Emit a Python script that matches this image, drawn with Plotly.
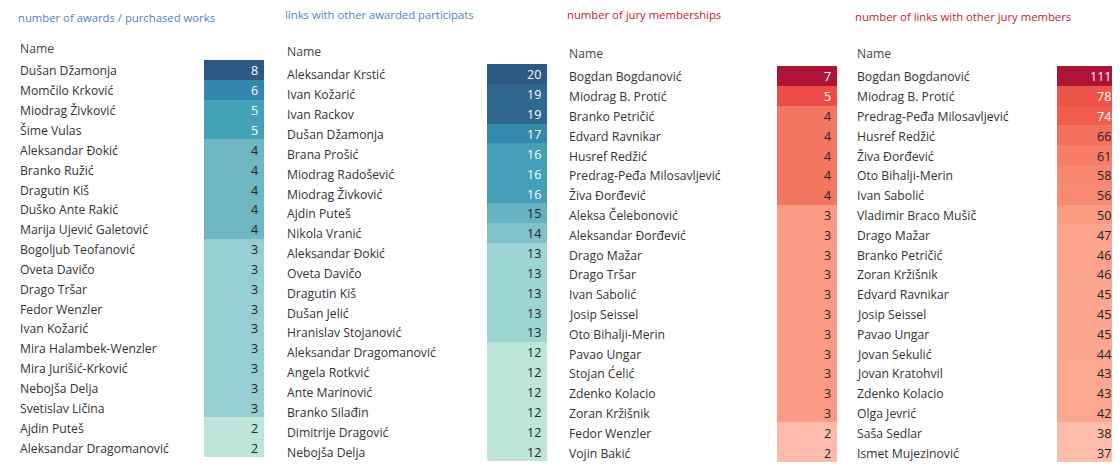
import plotly.graph_objects as go

# ---------------- data ----------------
awards_title = "number of awards / purchased works"
awards_names = ["Dušan Džamonja", "Momčilo Krković", "Miodrag Živković", "Šime Vulas",
                "Aleksandar Đokić", "Branko Ružić", "Dragutin Kiš", "Duško Ante Rakić",
                "Marija Ujević Galetović", "Bogoljub Teofanović", "Oveta Davičo", "Drago Tršar",
                "Fedor Wenzler", "Ivan Kožarić", "Mira Halambek-Wenzler", "Mira Jurišić-Krković",
                "Nebojša Delja", "Svetislav Ličina", "Ajdin Puteš", "Aleksandar Dragomanović"]
awards_values = [8, 6, 5, 5, 4, 4, 4, 4, 4, 3, 3, 3, 3, 3, 3, 3, 3, 3, 2, 2]

links_title = "links with other awarded participats"
links_names = ["Aleksandar Krstić", "Ivan Kožarić", "Ivan Rackov", "Dušan Džamonja",
               "Brana Prošić", "Miodrag Radošević", "Miodrag Živković", "Ajdin Puteš",
               "Nikola Vranić", "Aleksandar Đokić", "Oveta Davičo", "Dragutin Kiš",
               "Dušan Jelić", "Hranislav Stojanović", "Aleksandar Dragomanović", "Angela Rotkvić",
               "Ante Marinović", "Branko Silađin", "Dimitrije Dragović", "Nebojša Delja"]
links_values = [20, 19, 19, 17, 16, 16, 16, 15, 14, 13, 13, 13, 13, 13, 12, 12, 12, 12, 12, 12]

jury_title = "number of jury memberships"
jury_names = ["Bogdan Bogdanović", "Miodrag B. Protić", "Branko Petričić", "Edvard Ravnikar",
              "Husref Redžić", "Predrag-Peđa Milosavljević", "Živa Đorđević", "Aleksa Čelebonović",
              "Aleksandar Đorđević", "Drago Mažar", "Drago Tršar", "Ivan Sabolić",
              "Josip Seissel", "Oto Bihalji-Merin", "Pavao Ungar", "Stojan Ćelić",
              "Zdenko Kolacio", "Zoran Kržišnik", "Fedor Wenzler", "Vojin Bakić"]
jury_values = [7, 5, 4, 4, 4, 4, 4, 3, 3, 3, 3, 3, 3, 3, 3, 3, 3, 3, 2, 2]

jurylinks_title = "number of links with other jury members"
jurylinks_names = ["Bogdan Bogdanović", "Miodrag B. Protić", "Predrag-Peđa Milosavljević",
                   "Husref Redžić", "Živa Đorđević", "Oto Bihalji-Merin", "Ivan Sabolić",
                   "Vladimir Braco Mušič", "Drago Mažar", "Branko Petričić", "Zoran Kržišnik",
                   "Edvard Ravnikar", "Josip Seissel", "Pavao Ungar", "Jovan Sekulić",
                   "Jovan Kratohvil", "Zdenko Kolacio", "Olga Jevrić", "Saša Sedlar",
                   "Ismet Mujezinović"]
jurylinks_values = [111, 78, 74, 66, 61, 58, 56, 50, 47, 46, 46, 45, 45, 45, 44, 43, 43, 42, 38, 37]

# ---------------- styles ----------------
OFF = 8                      # page body margin
W, H = 1120 - OFF, 464 - OFF
FONT = "Open Sans"
BLUE_T = "#5283bd"
RED_T = "#c8202f"
NAME_SIZE = 12.2

awards_scale = [(2, "#bde5da"), (3, "#95cfd1"), (4, "#6fb7c3"), (5, "#43a1b8"), (6, "#3487ac"), (8, "#2d5986")]
links_scale = [(12, "#bde5da"), (13, "#9dd5d3"), (14, "#80c2ca"), (15, "#66b2c0"), (16, "#43a0b8"),
               (17, "#358aac"), (19, "#30678f"), (20, "#2d5986")]
jury_scale = [(2, "#fdbcab"), (3, "#fb9b85"), (4, "#f47762"), (5, "#ec4b48"), (7, "#b01338")]
jurylinks_scale = [(37, "#fdbdab"), (38, "#fdbba9"), (42, "#fca891"), (45, "#fca58f"), (47, "#fba38d"),
                   (50, "#fa9b84"), (56, "#f88b73"), (58, "#f78770"), (61, "#f67d68"), (66, "#f4705e"),
                   (74, "#f05d4d"), (78, "#ef5449"), (111, "#b01338")]

# geometry in reference-window pixels
panels = [
    dict(title=awards_title, tcol=BLUE_T, names=awards_names, values=awards_values, scale=awards_scale,
         tx=16, ty=17, hy=48, nx=18, cx0=204, cx1=264, cy0=60, cy1=457, white=5),
    dict(title=links_title, tcol=BLUE_T, names=links_names, values=links_values, scale=links_scale,
         tx=283, ty=14, hy=52, nx=285, cx0=487, cx1=547, cy0=64, cy1=461, white=16),
    dict(title=jury_title, tcol=RED_T, names=jury_names, values=jury_values, scale=jury_scale,
         tx=565, ty=15, hy=54, nx=567, cx0=777, cx1=837, cy0=66, cy1=462, white=5),
    dict(title=jurylinks_title, tcol=RED_T, names=jurylinks_names, values=jurylinks_values, scale=jurylinks_scale,
         tx=853, ty=16, hy=54, nx=855, cx0=1057, cx1=1117, cy0=66, cy1=462, white=74),
]


def px(x):
    return (x - OFF) / W


def py(y):
    return 1 - (y - OFF) / H


fig = go.Figure()
layout = dict(width=W, height=H, margin=dict(l=0, r=0, t=0, b=0),
              paper_bgcolor="white", plot_bgcolor="white", showlegend=False,
              font=dict(family=FONT, size=12, color="#333333"))
annotations = []

for i, p in enumerate(panels):
    xn = f"x{2*i+1}" if i > 0 else "x"
    xc = f"x{2*i+2}"
    yy = f"y{i+1}" if i > 0 else "y"
    n = len(p["names"])
    rows = list(range(n))
    vmin = p["scale"][0][0]
    vmax = p["scale"][-1][0]
    cs = [[(v - vmin) / (vmax - vmin), c] for v, c in p["scale"]]

    # names column
    for r, name in zip(rows, p["names"]):
        annotations.append(dict(text=name, x=0, y=r, xref=xn, yref=yy, xanchor="left",
                                yanchor="middle", yshift=-1, showarrow=False,
                                font=dict(family=FONT, size=NAME_SIZE, color="#333333")))
    # colored cells
    fig.add_trace(go.Heatmap(x=[0], y=rows, z=[[v] for v in p["values"]], colorscale=cs,
                             zmin=vmin, zmax=vmax, showscale=False, hoverinfo="skip",
                             xaxis=xc, yaxis=yy))
    # value labels
    for r, v in zip(rows, p["values"]):
        annotations.append(dict(text=str(v), x=0.5, y=r, xref=xc, yref=yy, xanchor="right",
                                yanchor="middle", xshift=-4, yshift=-1, showarrow=False,
                                font=dict(family=FONT, size=12.5,
                                          color="white" if v >= p["white"] else "#222222")))

    kx_n = "xaxis" if i == 0 else f"xaxis{2*i+1}"
    layout[kx_n] = dict(domain=[px(p["nx"]), px(p["cx0"])], range=[0, 1], visible=False,
                        anchor=yy, fixedrange=True)
    layout[f"xaxis{2*i+2}"] = dict(domain=[px(p["cx0"]), px(p["cx1"])], range=[-0.5, 0.5],
                                   visible=False, anchor=yy, fixedrange=True)
    ky = "yaxis" if i == 0 else f"yaxis{i+1}"
    layout[ky] = dict(domain=[py(p["cy1"]), py(p["cy0"])], range=[n - 0.5, -0.5], visible=False,
                      anchor=xn, fixedrange=True)

    annotations.append(dict(text=p["title"], x=px(p["tx"]), y=py(p["ty"]), xref="paper", yref="paper",
                            xanchor="left", yanchor="middle", showarrow=False,
                            font=dict(family=FONT, size=11.3, color=p["tcol"])))
    annotations.append(dict(text="Name", x=px(p["nx"]), y=py(p["hy"]), xref="paper", yref="paper",
                            xanchor="left", yanchor="middle", showarrow=False,
                            font=dict(family=FONT, size=NAME_SIZE, color="#444444")))

layout["annotations"] = annotations
fig.update_layout(**layout)
fig.write_html("out.html")
